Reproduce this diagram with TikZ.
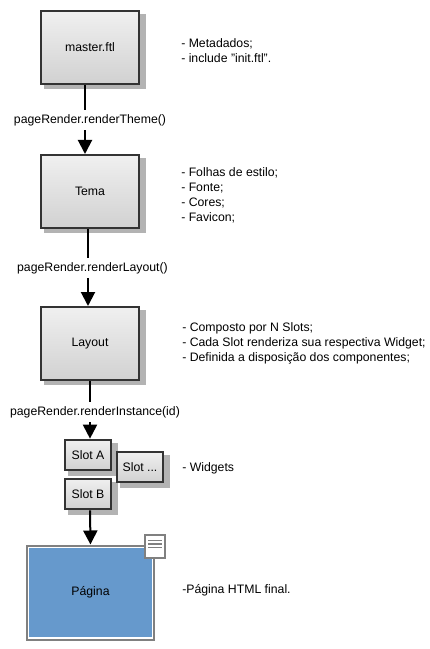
\documentclass[tikz,border=0pt]{standalone}
\usepackage{fontspec}
\setmainfont{Liberation Sans}
\usetikzlibrary{arrows.meta,backgrounds}
\definecolor{boxline}{HTML}{333333}
\definecolor{boxshadow}{HTML}{B3B3B3}
\definecolor{pageblue}{HTML}{6699CC}
\definecolor{pagegray}{HTML}{808080}
\tikzset{
	basebox/.style={rectangle, draw=boxline, line width=1.5pt, top color=black!6, bottom color=black!18},
	bigbox/.style={basebox, minimum width=73.5pt, minimum height=54.75pt},
	slotbox/.style={basebox, minimum width=34.5pt, minimum height=23pt, inner sep=0pt},
	pageline/.style={rectangle, draw=pagegray, line width=1.5pt, fill=white},
	call/.style={fill=white, inner sep=0pt, minimum height=15pt},
	note/.style={anchor=west, align=left, inner sep=0pt},
	flow/.style={line width=1.5pt, -{Triangle[width=10.5pt,length=10.5pt]}}
}
\begin{document}
\begin{tikzpicture}[x=0.75pt, y=-0.75pt, font=\fontsize{9.2}{11.25}\selectfont]
	\useasboundingbox (0,0) rectangle (429,649);
	% boxes
	\node[bigbox] (master) at (90,47.5) {master.ftl};
	\node[bigbox] (tema) at (90,191.5) {Tema};
	\node[bigbox] (layout) at (90,343.5) {Layout};
	\node[slotbox] (slota) at (88,455) {Slot A};
	\node[slotbox] (slotx) at (140,467) {Slot ...};
	\node[slotbox] (slotb) at (88,494) {Slot B};
	\node[pageline, minimum width=95.5pt, minimum height=70.5pt] (frame) at (90.5,592.5) {};
	\node[rectangle, fill=pageblue, minimum width=92.25pt, minimum height=66.75pt] (pagina) at (frame.center) {\raisebox{-0.75pt}{Página}};
	\node[pageline, minimum width=15pt, minimum height=17.5pt] (doc) at (155,546.5) {};
	\foreach \i in {-6,-2.5,1}
		\draw[pagegray, line width=1.1pt] ([xshift=-5.25pt, yshift=-\i*0.75pt]doc.center) -- ([xshift=5.25pt, yshift=-\i*0.75pt]doc.center);
	% shadows
	\begin{pgfonlayer}{background}
		\foreach \b in {master,tema,layout,slota,slotx,slotb}
			\fill[boxshadow] ([shift={(3pt,-3.25pt)}]\b.south west) rectangle ([shift={(4.25pt,-3pt)}]\b.north east);
	\end{pgfonlayer}
	% connectors
	\draw[flow] ([xshift=-3.75pt]master.south) -- ([xshift=-3.75pt]tema.north);
	\draw[flow] ([xshift=-1.5pt]tema.south) -- ([xshift=-1.5pt]layout.north);
	\draw[flow] (layout.south) -- (layout.south |- slota.north);
	\draw[flow] ([xshift=1.5pt]slotb.south) -- (frame.north);
	% labels
	\node[call] (theme) at (90,120) {pageRender.renderTheme()};
	\node[call] (rlayout) at (92.5,268) {pageRender.renderLayout()};
	\node[call] (instance) at (95,412) {pageRender.renderInstance(id)};
	\node[note] (n1) at (181,50.5) {- Metadados;\\- include "init.ftl".};
	\node[note] (n2) at (181,195.5) {- Folhas de estilo;\\- Fonte;\\- Cores;\\- Favicon;};
	\node[note] (n3) at (182,343) {- Composto por N Slots;\\- Cada Slot renderiza sua respectiva Widget;\\- Definida a disposição dos componentes;};
	\node[note] (n4) at (182,468) {- Widgets};
	\node[note] (n5) at (182,590) {-Página HTML final.};
\end{tikzpicture}
\end{document}
